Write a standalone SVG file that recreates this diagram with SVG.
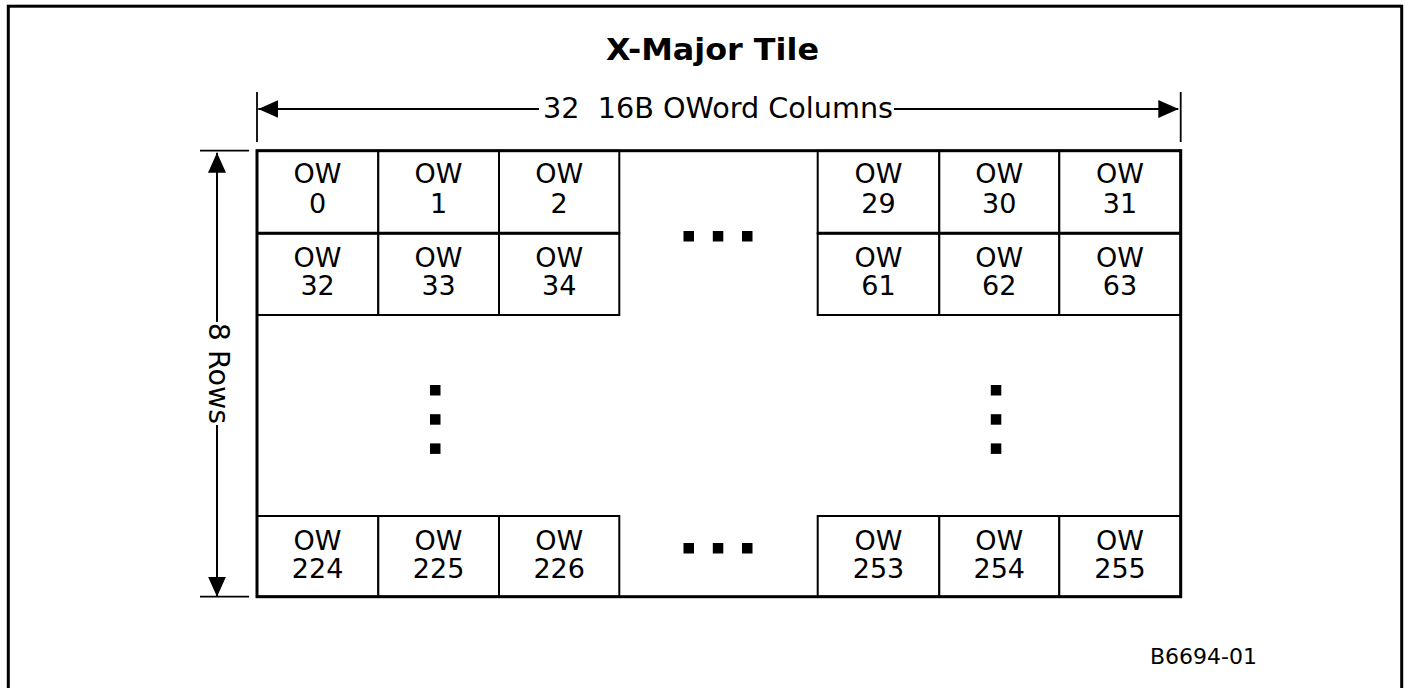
<svg xmlns="http://www.w3.org/2000/svg" width="1408" height="688" viewBox="0 0 1408 688">
<style>
.frame{fill:none;stroke:#000;stroke-width:3}
.outer{fill:none;stroke:#000;stroke-width:3}
.cell{fill:#fff;stroke:#000;stroke-width:2}
.div{stroke:#000;stroke-width:3}
.conn{stroke:#000;stroke-width:2;fill:none}
.tick{stroke:#000;stroke-width:1.8}
.t{font-family:"DejaVu Sans","Liberation Sans",sans-serif;font-size:27px;fill:#000;text-anchor:middle}
.lbl{font-family:"DejaVu Sans","Liberation Sans",sans-serif;font-size:28.5px;fill:#000;text-anchor:middle}
.title{font-family:"DejaVu Sans","Liberation Sans",sans-serif;font-size:31px;font-weight:bold;fill:#000;text-anchor:middle}
.id{font-family:"DejaVu Sans","Liberation Sans",sans-serif;font-size:22px;fill:#000}
.dot{fill:#000}
</style>
<defs>
<marker id="ah" viewBox="0 0 20 18" refX="20" refY="9" markerWidth="20" markerHeight="18" markerUnits="userSpaceOnUse" orient="auto">
<path d="M0,0 L20,9 L0,18 Z" fill="#000"/>
</marker>
</defs>
<rect class="frame" x="8.3" y="6.2" width="1393.4" height="720"/>
<text class="title" x="712.5" y="60" textLength="213" lengthAdjust="spacingAndGlyphs">X-Major Tile</text>

<g id="cell-0"><rect class="cell" x="257" y="150.7" width="121.3" height="82.6"/><text class="t" x="317.6" y="183">OW</text><text class="t" x="317.6" y="213.3">0</text></g>
<g id="cell-1"><rect class="cell" x="378.3" y="150.7" width="120.7" height="82.6"/><text class="t" x="438.6" y="183">OW</text><text class="t" x="438.6" y="213.3">1</text></g>
<g id="cell-2"><rect class="cell" x="499" y="150.7" width="120.3" height="82.6"/><text class="t" x="559.2" y="183">OW</text><text class="t" x="559.2" y="213.3">2</text></g>
<g id="cell-29"><rect class="cell" x="817.7" y="150.7" width="121.6" height="82.6"/><text class="t" x="878.5" y="183">OW</text><text class="t" x="878.5" y="213.3">29</text></g>
<g id="cell-30"><rect class="cell" x="939.3" y="150.7" width="120" height="82.6"/><text class="t" x="999.3" y="183">OW</text><text class="t" x="999.3" y="213.3">30</text></g>
<g id="cell-31"><rect class="cell" x="1059.3" y="150.7" width="121.4" height="82.6"/><text class="t" x="1120" y="183">OW</text><text class="t" x="1120" y="213.3">31</text></g>

<g id="cell-32"><rect class="cell" x="257" y="233.3" width="121.3" height="81.7"/><text class="t" x="317.6" y="266.7">OW</text><text class="t" x="317.6" y="295">32</text></g>
<g id="cell-33"><rect class="cell" x="378.3" y="233.3" width="120.7" height="81.7"/><text class="t" x="438.6" y="266.7">OW</text><text class="t" x="438.6" y="295">33</text></g>
<g id="cell-34"><rect class="cell" x="499" y="233.3" width="120.3" height="81.7"/><text class="t" x="559.2" y="266.7">OW</text><text class="t" x="559.2" y="295">34</text></g>
<g id="cell-61"><rect class="cell" x="817.7" y="233.3" width="121.6" height="81.7"/><text class="t" x="878.5" y="266.7">OW</text><text class="t" x="878.5" y="295">61</text></g>
<g id="cell-62"><rect class="cell" x="939.3" y="233.3" width="120" height="81.7"/><text class="t" x="999.3" y="266.7">OW</text><text class="t" x="999.3" y="295">62</text></g>
<g id="cell-63"><rect class="cell" x="1059.3" y="233.3" width="121.4" height="81.7"/><text class="t" x="1120" y="266.7">OW</text><text class="t" x="1120" y="295">63</text></g>

<g id="cell-224"><rect class="cell" x="257" y="516" width="121.3" height="80.7"/><text class="t" x="317.6" y="550">OW</text><text class="t" x="317.6" y="578.3">224</text></g>
<g id="cell-225"><rect class="cell" x="378.3" y="516" width="120.7" height="80.7"/><text class="t" x="438.6" y="550">OW</text><text class="t" x="438.6" y="578.3">225</text></g>
<g id="cell-226"><rect class="cell" x="499" y="516" width="120.3" height="80.7"/><text class="t" x="559.2" y="550">OW</text><text class="t" x="559.2" y="578.3">226</text></g>
<g id="cell-253"><rect class="cell" x="817.7" y="516" width="121.6" height="80.7"/><text class="t" x="878.5" y="550">OW</text><text class="t" x="878.5" y="578.3">253</text></g>
<g id="cell-254"><rect class="cell" x="939.3" y="516" width="120" height="80.7"/><text class="t" x="999.3" y="550">OW</text><text class="t" x="999.3" y="578.3">254</text></g>
<g id="cell-255"><rect class="cell" x="1059.3" y="516" width="121.4" height="80.7"/><text class="t" x="1120" y="550">OW</text><text class="t" x="1120" y="578.3">255</text></g>

<g id="tile-border">
<line class="div" x1="257" y1="233.3" x2="619.3" y2="233.3"/>
<line class="div" x1="817.7" y1="233.3" x2="1180.7" y2="233.3"/>
<rect class="outer" x="257" y="150.7" width="923.7" height="446"/>
</g>

<g id="ellipses">
<rect class="dot" x="683.5" y="231" width="10.5" height="10.5"/>
<rect class="dot" x="712.8" y="231" width="10.5" height="10.5"/>
<rect class="dot" x="742" y="231" width="10.5" height="10.5"/>
<rect class="dot" x="683.5" y="543" width="10.5" height="10.5"/>
<rect class="dot" x="712.8" y="543" width="10.5" height="10.5"/>
<rect class="dot" x="742" y="543" width="10.5" height="10.5"/>
<rect class="dot" x="430" y="385" width="10.5" height="10.5"/>
<rect class="dot" x="430" y="414.2" width="10.5" height="10.5"/>
<rect class="dot" x="430" y="443.4" width="10.5" height="10.5"/>
<rect class="dot" x="990.8" y="385" width="10.5" height="10.5"/>
<rect class="dot" x="990.8" y="414.2" width="10.5" height="10.5"/>
<rect class="dot" x="990.8" y="443.4" width="10.5" height="10.5"/>
</g>

<g id="connectors">
<line class="tick" x1="257" y1="92" x2="257" y2="142"/>
<line class="tick" x1="1180.7" y1="92" x2="1180.7" y2="142"/>
<line class="tick" x1="200" y1="150.7" x2="249" y2="150.7"/>
<line class="tick" x1="200" y1="596.7" x2="249" y2="596.7"/>
<line class="conn" x1="539" y1="109" x2="258.3" y2="109" marker-end="url(#ah)"/>
<line class="conn" x1="894" y1="109" x2="1178.3" y2="109" marker-end="url(#ah)"/>
<line class="conn" x1="217" y1="322" x2="217" y2="152.7" marker-end="url(#ah)"/>
<line class="conn" x1="217" y1="425" x2="217" y2="596.7" marker-end="url(#ah)"/>
</g>

<g id="labels">
<text class="lbl" x="718" y="118" textLength="350" lengthAdjust="spacingAndGlyphs" xml:space="preserve">32  16B OWord Columns</text>
<text class="lbl" transform="translate(209,373.5) rotate(90)" x="0" y="0">8 Rows</text>
<text class="id" x="1150" y="664">B6694-01</text>
</g>
</svg>
